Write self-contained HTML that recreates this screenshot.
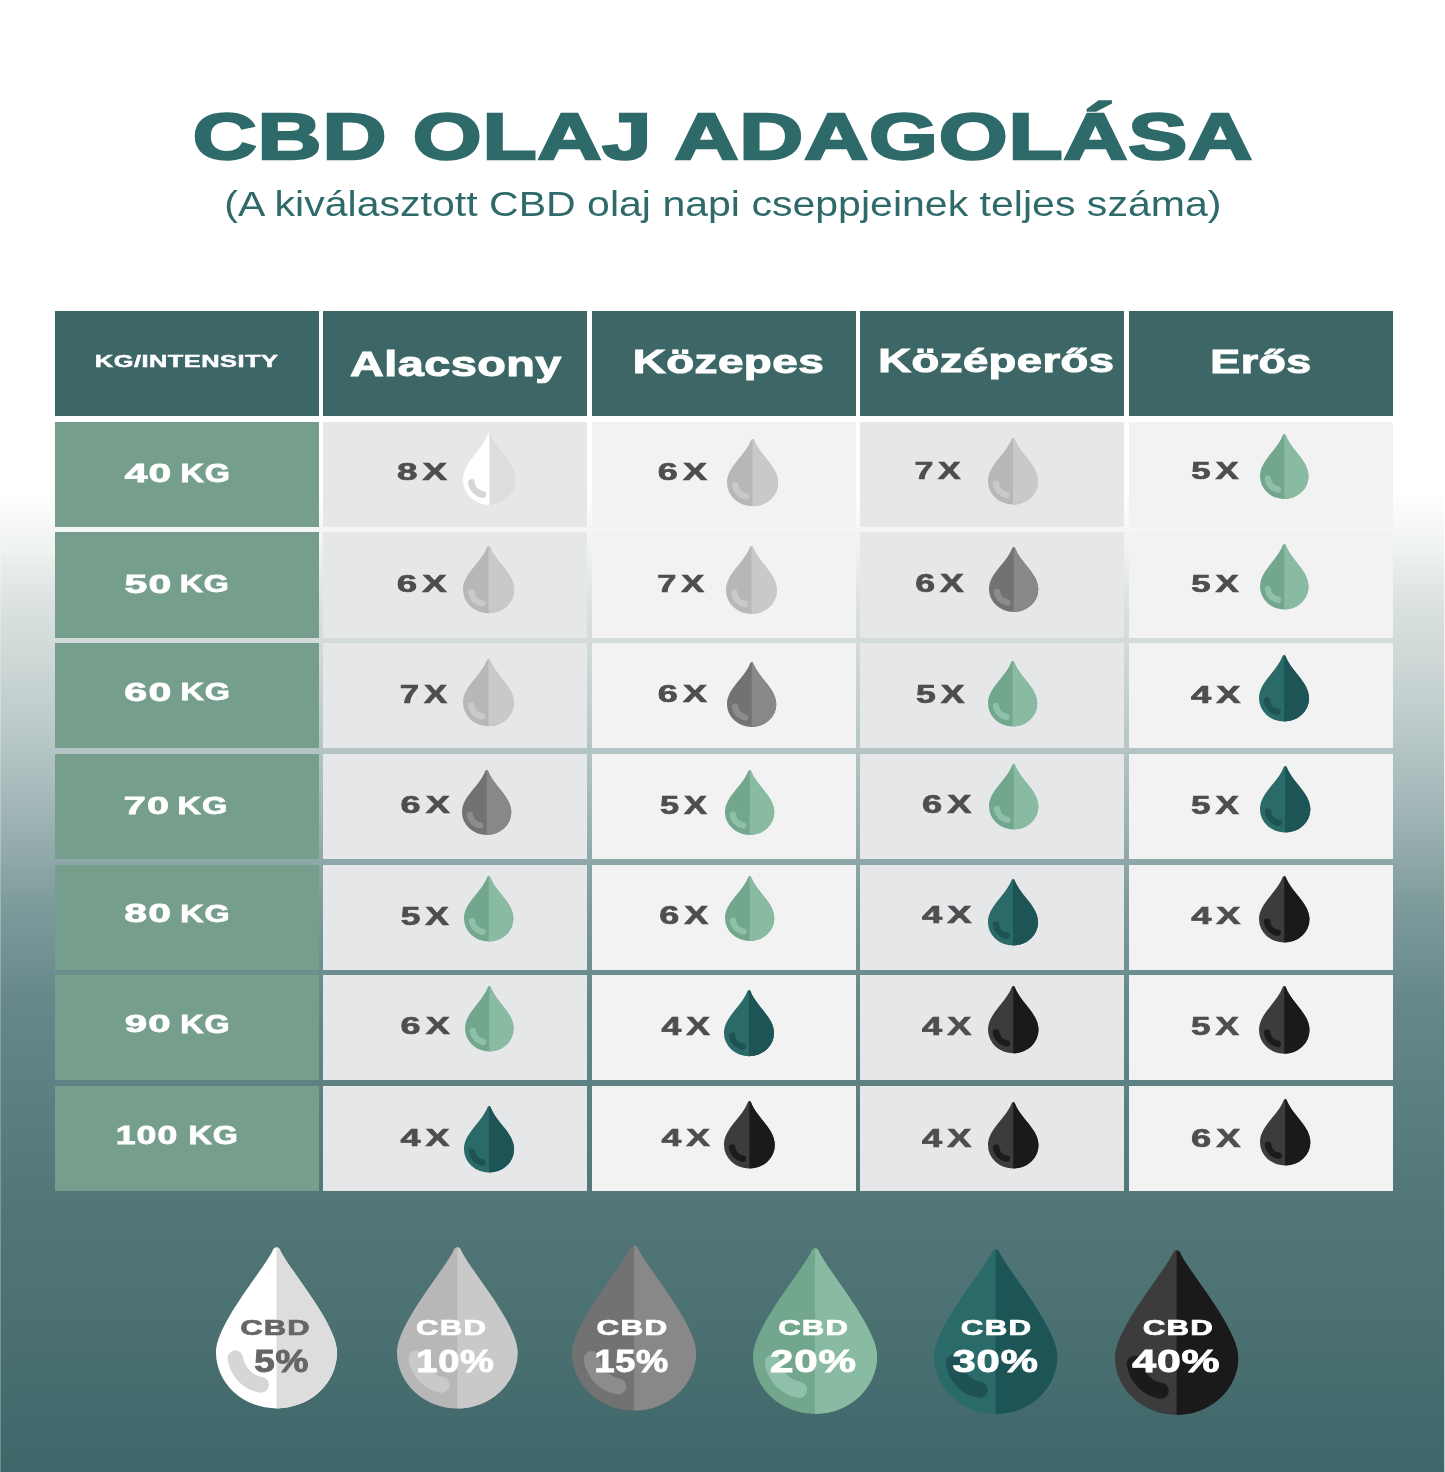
<!DOCTYPE html>
<html lang="hu">
<head>
<meta charset="utf-8">
<title>CBD olaj adagolása</title>
<style>
html,body{margin:0;padding:0}
html{background:#fff}
body{width:1445px;height:1472px;position:relative;overflow:hidden;background:linear-gradient(to bottom,#ffffff 0.00%,#ffffff 33.42%,#eef2f1 37.36%,#dce3e2 40.76%,#c3d0cf 47.55%,#a5b8b9 54.35%,#7f9c9d 61.14%,#668889 67.93%,#5c7f81 74.73%,#537678 81.52%,#4d7274 88.32%,#446b6d 95.11%,#3f6668 100.00%);font-family:"Liberation Sans",sans-serif}
.c{position:absolute;width:263.7px;height:105.2px}
.h{background:#3d6667}
.l{background:#769e8c}
.a{background:#e6e7e9}
.b{background:#f2f2f2}
.t{position:absolute;left:0;top:0;margin:0;will-change:transform;white-space:nowrap;line-height:1;transform-origin:0 0;font-weight:700}
.n{font-weight:400}
.d{position:absolute;overflow:visible}
.e{position:absolute;top:0;width:1px;height:100%}
.k5{--l:#ffffff;--r:#dddddd;--s:#d6d6d6}
.k10{--l:#b7b7b7;--r:#c9c9c9;--s:#c9c9c9}
.k15{--l:#727272;--r:#888888;--s:#8c8c8c}
.k20{--l:#72a78e;--r:#89bba3;--s:#8fc0a9}
.k30{--l:#2a6a69;--r:#1d5456;--s:#1e5254}
.k40{--l:#3c3c3c;--r:#1a1a1a;--s:#1b1b1b}

</style>
</head>
<body>
<svg width="0" height="0" style="position:absolute"><defs>
<clipPath id="rh"><rect x="50" y="-2" width="52" height="140"/></clipPath>
<symbol id="drop" viewBox="0 0 100 133.5" preserveAspectRatio="none" overflow="visible">
<path d="M47.4,1.6 A3.2,3.2 0 0 1 52.6,1.6 C57.7,15.3 100,62.9 100,87 A50,46.5 0 0 1 0,87 C0,62.9 42.3,15.3 47.4,1.6 Z" style="fill:var(--l)"/>
<path d="M47.4,1.6 A3.2,3.2 0 0 1 52.6,1.6 C57.7,15.3 100,62.9 100,87 A50,46.5 0 0 1 0,87 C0,62.9 42.3,15.3 47.4,1.6 Z" clip-path="url(#rh)" style="fill:var(--r)"/>
<path d="M16,92 A26,26 0 0 0 37.2,114" style="fill:none;stroke:var(--s);stroke-width:13;stroke-linecap:round"/>
</symbol>
<symbol id="sdrop" viewBox="0 0 100 133.5" preserveAspectRatio="none" overflow="visible">
<path d="M47.4,1.6 A3.2,3.2 0 0 1 52.6,1.6 C64.9,34.3 100,54.2 100,87 A50,46.5 0 0 1 0,87 C0,54.2 35.1,34.3 47.4,1.6 Z" style="fill:var(--l)"/>
<path d="M47.4,1.6 A3.2,3.2 0 0 1 52.6,1.6 C64.9,34.3 100,54.2 100,87 A50,46.5 0 0 1 0,87 C0,54.2 35.1,34.3 47.4,1.6 Z" clip-path="url(#rh)" style="fill:var(--r)"/>
<path d="M16,92 A26,26 0 0 0 37.2,114" style="fill:none;stroke:var(--s);stroke-width:13;stroke-linecap:round"/>
</symbol></defs></svg>
<i class="e" style="left:0;background:rgba(255,255,255,.25)"></i><i class="e" style="right:0;background:rgba(255,255,255,.67)"></i>
<header>
<h1 class="t" style="font-size:65.16px;color:#2e6a69;transform:translate(192.74px,104.4px) scaleX(1.3588);-webkit-text-stroke:2.4px #2e6a69;letter-spacing:0.01em">CBD OLAJ ADAGOLÁSA</h1>
<p class="t n" style="font-size:34.36px;color:#2e6a69;transform:translate(224.33px,187px) scaleX(1.1948)">(A kiválasztott CBD olaj napi cseppjeinek teljes száma)</p>
</header>
<main>
<div class="c h" style="left:55px;top:311px"></div>
<div class="c h" style="left:323.4px;top:311px"></div>
<div class="c h" style="left:591.9px;top:311px"></div>
<div class="c h" style="left:860.4px;top:311px"></div>
<div class="c h" style="left:1128.9px;top:311px"></div>
<div class="c l" style="left:55px;top:421.7px"></div>
<div class="c a" style="left:323.4px;top:421.7px"></div>
<div class="c b" style="left:591.9px;top:421.7px"></div>
<div class="c a" style="left:860.4px;top:421.7px"></div>
<div class="c b" style="left:1128.9px;top:421.7px"></div>
<div class="c l" style="left:55px;top:532.4px"></div>
<div class="c a" style="left:323.4px;top:532.4px"></div>
<div class="c b" style="left:591.9px;top:532.4px"></div>
<div class="c a" style="left:860.4px;top:532.4px"></div>
<div class="c b" style="left:1128.9px;top:532.4px"></div>
<div class="c l" style="left:55px;top:643.1px"></div>
<div class="c a" style="left:323.4px;top:643.1px"></div>
<div class="c b" style="left:591.9px;top:643.1px"></div>
<div class="c a" style="left:860.4px;top:643.1px"></div>
<div class="c b" style="left:1128.9px;top:643.1px"></div>
<div class="c l" style="left:55px;top:753.8px"></div>
<div class="c a" style="left:323.4px;top:753.8px"></div>
<div class="c b" style="left:591.9px;top:753.8px"></div>
<div class="c a" style="left:860.4px;top:753.8px"></div>
<div class="c b" style="left:1128.9px;top:753.8px"></div>
<div class="c l" style="left:55px;top:864.5px"></div>
<div class="c a" style="left:323.4px;top:864.5px"></div>
<div class="c b" style="left:591.9px;top:864.5px"></div>
<div class="c a" style="left:860.4px;top:864.5px"></div>
<div class="c b" style="left:1128.9px;top:864.5px"></div>
<div class="c l" style="left:55px;top:975.2px"></div>
<div class="c a" style="left:323.4px;top:975.2px"></div>
<div class="c b" style="left:591.9px;top:975.2px"></div>
<div class="c a" style="left:860.4px;top:975.2px"></div>
<div class="c b" style="left:1128.9px;top:975.2px"></div>
<div class="c l" style="left:55px;top:1085.9px"></div>
<div class="c a" style="left:323.4px;top:1085.9px"></div>
<div class="c b" style="left:591.9px;top:1085.9px"></div>
<div class="c a" style="left:860.4px;top:1085.9px"></div>
<div class="c b" style="left:1128.9px;top:1085.9px"></div>
<span class="t" style="font-size:17.24px;color:#fff;transform:translate(94.86px,353.3px) scaleX(1.4716);-webkit-text-stroke:0.5px #fff;letter-spacing:0.02em">KG/INTENSITY</span>
<span class="t" style="font-size:34.57px;color:#fff;transform:translate(349.92px,346.5px) scaleX(1.3548);-webkit-text-stroke:1px #fff;letter-spacing:0.01em">Alacsony</span>
<span class="t" style="font-size:32.89px;color:#fff;transform:translate(632.65px,345.8px) scaleX(1.3927);-webkit-text-stroke:1px #fff;letter-spacing:0.01em">Közepes</span>
<span class="t" style="font-size:32.57px;color:#fff;transform:translate(878.37px,345.15px) scaleX(1.3934);-webkit-text-stroke:1px #fff;letter-spacing:0.01em">Középerős</span>
<span class="t" style="font-size:33.75px;color:#fff;transform:translate(1210.32px,344.75px) scaleX(1.3267);-webkit-text-stroke:1px #fff;letter-spacing:0.01em">Erős</span>
<span class="t" style="font-size:25.18px;color:#fff;transform:translate(124.65px,461.45px) scaleX(1.6219);-webkit-text-stroke:0.8px #fff;letter-spacing:0.03em">40</span>
<span class="t" style="font-size:25.18px;color:#fff;transform:translate(180.52px,461.45px) scaleX(1.2852);-webkit-text-stroke:0.8px #fff;letter-spacing:0.03em">KG</span>
<span class="t" style="font-size:24.91px;color:#fff;transform:translate(124.44px,572.15px) scaleX(1.6445);-webkit-text-stroke:0.8px #fff;letter-spacing:0.03em">50</span>
<span class="t" style="font-size:24.59px;color:#fff;transform:translate(179.72px,572.2px) scaleX(1.3065);-webkit-text-stroke:0.8px #fff;letter-spacing:0.03em">KG</span>
<span class="t" style="font-size:25.42px;color:#fff;transform:translate(124.27px,680.25px) scaleX(1.6210);-webkit-text-stroke:0.8px #fff;letter-spacing:0.03em">60</span>
<span class="t" style="font-size:24.76px;color:#fff;transform:translate(180.55px,680.3px) scaleX(1.3059);-webkit-text-stroke:0.8px #fff;letter-spacing:0.03em">KG</span>
<span class="t" style="font-size:24.76px;color:#fff;transform:translate(123.71px,794.1px) scaleX(1.5997);-webkit-text-stroke:0.8px #fff;letter-spacing:0.03em">70</span>
<span class="t" style="font-size:24.76px;color:#fff;transform:translate(177.48px,794.1px) scaleX(1.3105);-webkit-text-stroke:0.8px #fff;letter-spacing:0.03em">KG</span>
<span class="t" style="font-size:25.4px;color:#fff;transform:translate(124.22px,901.15px) scaleX(1.6101);-webkit-text-stroke:0.8px #fff;letter-spacing:0.03em">80</span>
<span class="t" style="font-size:24.76px;color:#fff;transform:translate(180.33px,902px) scaleX(1.3007);-webkit-text-stroke:0.8px #fff;letter-spacing:0.03em">KG</span>
<span class="t" style="font-size:24.43px;color:#fff;transform:translate(124.72px,1011.51px) scaleX(1.6489);-webkit-text-stroke:0.8px #fff;letter-spacing:0.03em">90</span>
<span class="t" style="font-size:25.18px;color:#fff;transform:translate(180.35px,1012.05px) scaleX(1.2801);-webkit-text-stroke:0.8px #fff;letter-spacing:0.03em">KG</span>
<span class="t" style="font-size:25.42px;color:#fff;transform:translate(115.69px,1122.95px) scaleX(1.4026);-webkit-text-stroke:0.8px #fff;letter-spacing:0.03em">100</span>
<span class="t" style="font-size:25.42px;color:#fff;transform:translate(188.49px,1122.95px) scaleX(1.2681);-webkit-text-stroke:0.8px #fff;letter-spacing:0.03em">KG</span>
<span class="t" style="font-size:24.5px;color:#4e4e50;transform:translate(396.9px,460px) scaleX(1.5020);-webkit-text-stroke:0.7px #4e4e50;letter-spacing:0.14em">8X</span>
<svg class="d k5" style="left:462.6px;top:433.3px" width="52.8" height="72"><use href="#sdrop"/></svg>
<span class="t" style="font-size:24.5px;color:#4e4e50;transform:translate(657.78px,460px) scaleX(1.4714);-webkit-text-stroke:0.7px #4e4e50;letter-spacing:0.14em">6X</span>
<svg class="d k10" style="left:726.6px;top:438.7px" width="51.2" height="67.3"><use href="#sdrop"/></svg>
<span class="t" style="font-size:24.2px;color:#4e4e50;transform:translate(914.42px,459.05px) scaleX(1.4010);-webkit-text-stroke:0.7px #4e4e50;letter-spacing:0.14em">7X</span>
<svg class="d k10" style="left:987.8px;top:437.9px" width="50.1" height="66.6"><use href="#sdrop"/></svg>
<span class="t" style="font-size:23.67px;color:#4e4e50;transform:translate(1191.24px,460.2px) scaleX(1.4656);-webkit-text-stroke:0.7px #4e4e50;letter-spacing:0.14em">5X</span>
<svg class="d k20" style="left:1259.9px;top:433.5px" width="48.5" height="65"><use href="#sdrop"/></svg>
<span class="t" style="font-size:24.73px;color:#4e4e50;transform:translate(396.85px,571.9px) scaleX(1.4829);-webkit-text-stroke:0.7px #4e4e50;letter-spacing:0.14em">6X</span>
<svg class="d k10" style="left:463.1px;top:546.3px" width="51.2" height="67.3"><use href="#sdrop"/></svg>
<span class="t" style="font-size:24.02px;color:#4e4e50;transform:translate(657.35px,571.75px) scaleX(1.4335);-webkit-text-stroke:0.7px #4e4e50;letter-spacing:0.14em">7X</span>
<svg class="d k10" style="left:725.8px;top:545.6px" width="50.8" height="68"><use href="#sdrop"/></svg>
<span class="t" style="font-size:24.93px;color:#4e4e50;transform:translate(915.13px,570.85px) scaleX(1.4288);-webkit-text-stroke:0.7px #4e4e50;letter-spacing:0.14em">6X</span>
<svg class="d k15" style="left:988.6px;top:547.1px" width="49.3" height="65"><use href="#sdrop"/></svg>
<span class="t" style="font-size:24.09px;color:#4e4e50;transform:translate(1191.14px,571.9px) scaleX(1.4475);-webkit-text-stroke:0.7px #4e4e50;letter-spacing:0.14em">5X</span>
<svg class="d k20" style="left:1259.9px;top:544.1px" width="48.5" height="65.4"><use href="#sdrop"/></svg>
<span class="t" style="font-size:25.21px;color:#4e4e50;transform:translate(399.82px,682.45px) scaleX(1.3743);-webkit-text-stroke:0.7px #4e4e50;letter-spacing:0.14em">7X</span>
<svg class="d k10" style="left:462.7px;top:659.4px" width="50.9" height="67.3"><use href="#sdrop"/></svg>
<span class="t" style="font-size:24.5px;color:#4e4e50;transform:translate(657.78px,682.2px) scaleX(1.4714);-webkit-text-stroke:0.7px #4e4e50;letter-spacing:0.14em">6X</span>
<svg class="d k15" style="left:727.3px;top:661.7px" width="49.3" height="65"><use href="#sdrop"/></svg>
<span class="t" style="font-size:24.86px;color:#4e4e50;transform:translate(916.05px,682.2px) scaleX(1.4328);-webkit-text-stroke:0.7px #4e4e50;letter-spacing:0.14em">5X</span>
<svg class="d k20" style="left:987.8px;top:661.3px" width="49.3" height="65.4"><use href="#sdrop"/></svg>
<span class="t" style="font-size:23.07px;color:#4e4e50;transform:translate(1191.04px,683.95px) scaleX(1.5747);-webkit-text-stroke:0.7px #4e4e50;letter-spacing:0.14em">4X</span>
<svg class="d k30" style="left:1259.1px;top:655px" width="50.1" height="66.5"><use href="#sdrop"/></svg>
<span class="t" style="font-size:24.5px;color:#4e4e50;transform:translate(400.57px,793.2px) scaleX(1.4727);-webkit-text-stroke:0.7px #4e4e50;letter-spacing:0.14em">6X</span>
<svg class="d k15" style="left:462px;top:770px" width="49.3" height="65"><use href="#sdrop"/></svg>
<span class="t" style="font-size:24.86px;color:#4e4e50;transform:translate(660.11px,793.2px) scaleX(1.3830);-webkit-text-stroke:0.7px #4e4e50;letter-spacing:0.14em">5X</span>
<svg class="d k20" style="left:724.7px;top:770px" width="49.3" height="65"><use href="#sdrop"/></svg>
<span class="t" style="font-size:25.74px;color:#4e4e50;transform:translate(922px,791.75px) scaleX(1.4092);-webkit-text-stroke:0.7px #4e4e50;letter-spacing:0.14em">6X</span>
<svg class="d k20" style="left:988.9px;top:764.4px" width="49.4" height="65.4"><use href="#sdrop"/></svg>
<span class="t" style="font-size:24.86px;color:#4e4e50;transform:translate(1191.01px,793.2px) scaleX(1.4124);-webkit-text-stroke:0.7px #4e4e50;letter-spacing:0.14em">5X</span>
<svg class="d k30" style="left:1259.9px;top:766.3px" width="50.4" height="66.5"><use href="#sdrop"/></svg>
<span class="t" style="font-size:25.29px;color:#4e4e50;transform:translate(400.66px,903.85px) scaleX(1.3982);-webkit-text-stroke:0.7px #4e4e50;letter-spacing:0.14em">5X</span>
<svg class="d k20" style="left:464.2px;top:876.1px" width="49.4" height="65.4"><use href="#sdrop"/></svg>
<span class="t" style="font-size:24.93px;color:#4e4e50;transform:translate(659.14px,903.25px) scaleX(1.4424);-webkit-text-stroke:0.7px #4e4e50;letter-spacing:0.14em">6X</span>
<svg class="d k20" style="left:724.7px;top:875.7px" width="49.3" height="65"><use href="#sdrop"/></svg>
<span class="t" style="font-size:23.07px;color:#4e4e50;transform:translate(921.95px,903.95px) scaleX(1.5750);-webkit-text-stroke:0.7px #4e4e50;letter-spacing:0.14em">4X</span>
<svg class="d k30" style="left:988.2px;top:878.7px" width="50.1" height="66.5"><use href="#sdrop"/></svg>
<span class="t" style="font-size:24.02px;color:#4e4e50;transform:translate(1191.13px,904.45px) scaleX(1.5079);-webkit-text-stroke:0.7px #4e4e50;letter-spacing:0.14em">4X</span>
<svg class="d k40" style="left:1259.1px;top:875.7px" width="50.5" height="66.5"><use href="#sdrop"/></svg>
<span class="t" style="font-size:24.5px;color:#4e4e50;transform:translate(400.57px,1014.3px) scaleX(1.4727);-webkit-text-stroke:0.7px #4e4e50;letter-spacing:0.14em">6X</span>
<svg class="d k20" style="left:465px;top:985.9px" width="48.6" height="65.4"><use href="#sdrop"/></svg>
<span class="t" style="font-size:25.21px;color:#4e4e50;transform:translate(661.49px,1014.35px) scaleX(1.4099);-webkit-text-stroke:0.7px #4e4e50;letter-spacing:0.14em">4X</span>
<svg class="d k30" style="left:724px;top:990px" width="50" height="66.2"><use href="#sdrop"/></svg>
<span class="t" style="font-size:25.21px;color:#4e4e50;transform:translate(922.08px,1014.35px) scaleX(1.4367);-webkit-text-stroke:0.7px #4e4e50;letter-spacing:0.14em">4X</span>
<svg class="d k40" style="left:987.8px;top:986.3px" width="50.5" height="67.3"><use href="#sdrop"/></svg>
<span class="t" style="font-size:24.86px;color:#4e4e50;transform:translate(1191.01px,1014.3px) scaleX(1.4124);-webkit-text-stroke:0.7px #4e4e50;letter-spacing:0.14em">5X</span>
<svg class="d k40" style="left:1259.1px;top:985.9px" width="50.5" height="67.7"><use href="#sdrop"/></svg>
<span class="t" style="font-size:24.2px;color:#4e4e50;transform:translate(400.56px,1125.95px) scaleX(1.4864);-webkit-text-stroke:0.7px #4e4e50;letter-spacing:0.14em">4X</span>
<svg class="d k30" style="left:464.2px;top:1106.2px" width="50.1" height="66.5"><use href="#sdrop"/></svg>
<span class="t" style="font-size:24.2px;color:#4e4e50;transform:translate(661.48px,1125.95px) scaleX(1.4678);-webkit-text-stroke:0.7px #4e4e50;letter-spacing:0.14em">4X</span>
<svg class="d k40" style="left:724px;top:1100.6px" width="50.8" height="67.6"><use href="#sdrop"/></svg>
<span class="t" style="font-size:25.21px;color:#4e4e50;transform:translate(922.08px,1126.25px) scaleX(1.4367);-webkit-text-stroke:0.7px #4e4e50;letter-spacing:0.14em">4X</span>
<svg class="d k40" style="left:987.8px;top:1102.4px" width="50.5" height="66.5"><use href="#sdrop"/></svg>
<span class="t" style="font-size:24.93px;color:#4e4e50;transform:translate(1190.95px,1126.25px) scaleX(1.4593);-webkit-text-stroke:0.7px #4e4e50;letter-spacing:0.14em">6X</span>
<svg class="d k40" style="left:1259.9px;top:1098.7px" width="50.4" height="66.5"><use href="#sdrop"/></svg>
</main>
<footer>
<svg class="d k5" style="left:215.5px;top:1246.6px" width="121" height="161.4"><use href="#drop"/></svg>
<span class="t" style="font-size:22.59px;color:#666;transform:translate(240.14px,1317.3px) scaleX(1.3723);-webkit-text-stroke:0.7px #666;letter-spacing:0.04em">CBD</span>
<span class="t" style="font-size:30.8px;color:#666;transform:translate(254.25px,1347.35px) scaleX(1.2008);-webkit-text-stroke:0.9px #666;letter-spacing:0.02em">5%</span>
<svg class="d k10" style="left:396.9px;top:1247.4px" width="120.6" height="161.5"><use href="#drop"/></svg>
<span class="t" style="font-size:22.59px;color:#fff;transform:translate(416.01px,1317.3px) scaleX(1.3786);-webkit-text-stroke:0.7px #fff;letter-spacing:0.04em">CBD</span>
<span class="t" style="font-size:30.7px;color:#fff;transform:translate(416.32px,1347px) scaleX(1.2380);-webkit-text-stroke:0.9px #fff;letter-spacing:0.02em">10%</span>
<svg class="d k15" style="left:571.8px;top:1245px" width="124.1" height="165.6"><use href="#drop"/></svg>
<span class="t" style="font-size:22.59px;color:#fff;transform:translate(596.62px,1317.3px) scaleX(1.3937);-webkit-text-stroke:0.7px #fff;letter-spacing:0.04em">CBD</span>
<span class="t" style="font-size:30.8px;color:#fff;transform:translate(594.44px,1347.35px) scaleX(1.1742);-webkit-text-stroke:0.9px #fff;letter-spacing:0.02em">15%</span>
<svg class="d k20" style="left:752.9px;top:1247.9px" width="124.1" height="166"><use href="#drop"/></svg>
<span class="t" style="font-size:22.59px;color:#fff;transform:translate(778.15px,1317.3px) scaleX(1.3750);-webkit-text-stroke:0.7px #fff;letter-spacing:0.04em">CBD</span>
<span class="t" style="font-size:30.7px;color:#fff;transform:translate(770.12px,1347px) scaleX(1.3701);-webkit-text-stroke:0.9px #fff;letter-spacing:0.02em">20%</span>
<svg class="d k30" style="left:934.3px;top:1249.4px" width="123.3" height="165"><use href="#drop"/></svg>
<span class="t" style="font-size:22.59px;color:#fff;transform:translate(960.86px,1317.3px) scaleX(1.3835);-webkit-text-stroke:0.7px #fff;letter-spacing:0.04em">CBD</span>
<span class="t" style="font-size:30.7px;color:#fff;transform:translate(952.54px,1347px) scaleX(1.3617);-webkit-text-stroke:0.9px #fff;letter-spacing:0.02em">30%</span>
<svg class="d k40" style="left:1115.4px;top:1250px" width="123.3" height="164.9"><use href="#drop"/></svg>
<span class="t" style="font-size:22.59px;color:#fff;transform:translate(1142.69px,1317.3px) scaleX(1.3841);-webkit-text-stroke:0.7px #fff;letter-spacing:0.04em">CBD</span>
<span class="t" style="font-size:30.7px;color:#fff;transform:translate(1132.22px,1347px) scaleX(1.3950);-webkit-text-stroke:0.9px #fff;letter-spacing:0.02em">40%</span>
</footer>
</body>
</html>
